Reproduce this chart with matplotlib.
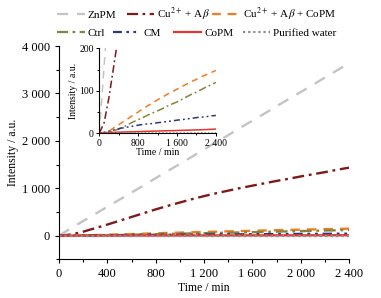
import numpy as np
import matplotlib
matplotlib.use('Agg')
import matplotlib.pyplot as plt
from matplotlib.ticker import MultipleLocator, FuncFormatter
from matplotlib.lines import Line2D

plt.rcParams['font.family'] = ['Liberation Serif', 'DejaVu Serif']
plt.rcParams['mathtext.fontset'] = 'stix'

# data
time = [0, 100, 200, 300, 400, 500, 600, 700, 800, 900, 1000, 1100, 1200,
        1300, 1400, 1500, 1600, 1700, 1800, 1900, 2000, 2100, 2200, 2300, 2400]
znpm = [0, 160, 310, 460, 610, 760, 910, 1060, 1215, 1365, 1515, 1665, 1820,
        1970, 2120, 2275, 2425, 2575, 2730, 2880, 3030, 3180, 3335, 3485, 3640]
cu_ab = [0, 25, 85, 160, 235, 315, 395, 475, 555, 630, 700, 770, 835,
         895, 950, 1005, 1055, 1105, 1155, 1200, 1250, 1295, 1340, 1390, 1435]
cu_ab_copm = [0, 2, 5, 13, 20, 28, 35, 43, 50, 58, 65, 72, 79,
              85, 92, 98, 104, 110, 116, 122, 127, 133, 138, 143, 148]
ctrl = [0, 1, 3, 6, 10, 15, 21, 27, 32, 37, 43, 48, 53,
        58, 64, 69, 74, 80, 86, 92, 97, 103, 109, 114, 120]
cm = [0, 2, 5, 8, 11, 13, 15, 17, 19, 21, 22, 23, 25,
      26, 28, 29, 31, 32, 34, 35, 37, 38, 39, 41, 42]
copm = [1, 1.5, 2, 2.3, 2.6, 3, 3.3, 3.6, 4, 4.3, 4.6, 5, 5.3,
        5.6, 6, 6.3, 6.6, 7, 7.3, 7.6, 8, 8.4, 8.8, 9.3, 10]
water = [0, 0, 0, 0, 0, 0, 0, 0, 0, 0, 0, 0, 0,
         0, 0, 0, 0, 0, 0, 0, 0, 0, 0, 0, 0]

series = [
    ('ZnPM', znpm, '#c4c4c4', (0, (5, 4))),
    ('Cu$^{2+}$ + A$\\beta$', cu_ab, '#7f1a1a', (0, (5, 2, 1.2, 2))),
    ('Cu$^{2+}$ + A$\\beta$ + CoPM', cu_ab_copm, '#f47b20', (0, (4, 3))),
    ('Ctrl', ctrl, '#84843a', (0, (5, 2, 1.2, 2))),
    ('CM', cm, '#2e3583', (0, (4, 2, 1.2, 2, 1.2, 2))),
    ('CoPM', copm, '#e8342c', '-'),
    ('Purified water', water, '#8c8c8c', (0, (1, 1.3))),
]
# legend slot for each series: (x in figure fraction, row y)
leg_x = [0.136, 0.318, 0.543, 0.136, 0.281, 0.441, 0.622]
leg_y = [0.95, 0.95, 0.95, 0.89, 0.89, 0.89, 0.89]

def space_fmt(v, pos):
    return '{:,.0f}'.format(v).replace(',', ' ')

fig = plt.figure(figsize=(3.81, 2.98), dpi=100)
ax = fig.add_axes([0.155, 0.1295, 0.761, 0.716])
for name, vals, col, ls in series:
    ax.plot(time, vals, color=col, linestyle=ls, lw=1.7, label=name)
ax.set_xlim(0, 2400)
ax.set_ylim(-500, 4000)
ax.xaxis.set_major_locator(MultipleLocator(400))
ax.xaxis.set_minor_locator(MultipleLocator(200))
ax.yaxis.set_major_locator(MultipleLocator(1000))
ax.yaxis.set_minor_locator(MultipleLocator(500))
ax.xaxis.set_major_formatter(FuncFormatter(space_fmt))
ax.yaxis.set_major_formatter(FuncFormatter(space_fmt))
for s in ['top', 'right']:
    ax.spines[s].set_visible(False)
ax.tick_params(labelsize=9, length=3, width=0.8)
ax.tick_params(which='minor', length=2, width=0.8)
ax.set_xlabel('Time / min', fontsize=8.5, labelpad=1)
ax.set_ylabel('Intensity / a.u.', fontsize=8.5, labelpad=2)

# inset
ins = fig.add_axes([0.2606, 0.5527, 0.306, 0.285])
for name, vals, col, ls in series:
    ins.plot(time, vals, color=col, linestyle=ls, lw=1.1)
ins.set_xlim(0, 2400)
ins.set_ylim(0, 200)
ins.xaxis.set_major_locator(MultipleLocator(800))
ins.xaxis.set_minor_locator(MultipleLocator(400))
ins.yaxis.set_major_locator(MultipleLocator(100))
ins.yaxis.set_minor_locator(MultipleLocator(50))
ins.xaxis.set_major_formatter(FuncFormatter(space_fmt))
for s in ['top', 'right']:
    ins.spines[s].set_visible(False)
ins.tick_params(labelsize=7, length=2.5, width=0.7, pad=1.5)
ins.tick_params(which='minor', length=1.5, width=0.7)
ins.set_xlabel('Time / min', fontsize=7, labelpad=0)
ins.set_ylabel('Intensity / a.u.', fontsize=7, labelpad=1)

# one legend entry per slot, laid out like the original
for (n, v, c, ls), lx, ly in zip(series, leg_x, leg_y):
    h = Line2D([], [], color=c, linestyle=ls, lw=1.6, label=n)
    fig.legend(handles=[h], loc='center left', bbox_to_anchor=(lx, ly),
               frameon=False, fontsize=8, handlelength=2.5,
               handletextpad=0.25, borderpad=0)

fig.savefig('out.png', dpi=100)
